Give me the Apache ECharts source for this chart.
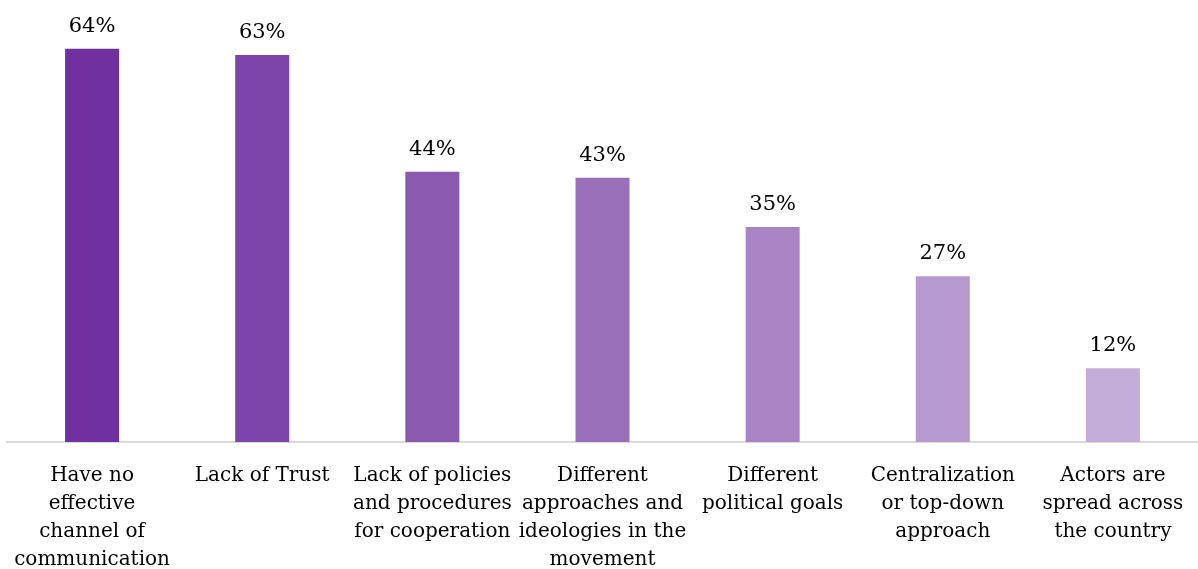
<!DOCTYPE html>
<html>
<head>
<meta charset="utf-8">
<script src="https://cdn.jsdelivr.net/npm/echarts@6/dist/echarts.min.js"></script>
<style>
  html, body { margin: 0; padding: 0; background: #ffffff; }
  #chart { width: 1198px; height: 569px; }
</style>
</head>
<body>
<div id="chart"></div>
<script>
// Reasons cited as barriers to cooperation (share of respondents, %)
const categories = [
  'Have no\neffective\nchannel of\ncommunication',
  'Lack of Trust',
  'Lack of policies\nand procedures\nfor cooperation',
  'Different\napproaches and\nideologies in the\nmovement',
  'Different\npolitical goals',
  'Centralization\nor top-down\napproach',
  'Actors are\nspread across\nthe country'
];
const values = [64, 63, 44, 43, 35, 27, 12];
const barColors = ['#7030A0', '#7E45A8', '#8B59B0', '#9A6FBA', '#A884C4', '#B69ACF', '#C4ADD9'];

const chart = echarts.init(document.getElementById('chart'), null, { renderer: 'canvas' });
chart.setOption({
  animation: false,
  backgroundColor: '#ffffff',
  grid: { left: 7, right: 0, top: 12, bottom: 127, containLabel: false, outerBoundsMode: 'none' },
  xAxis: {
    type: 'category',
    data: categories,
    axisLine: { show: true, lineStyle: { color: '#D9D9D9', width: 2 } },
    axisTick: { show: false },
    axisLabel: {
      interval: 0,
      margin: 20,
      color: '#000000',
      fontFamily: 'DejaVu Serif',
      fontSize: 20,
      lineHeight: 28,
      align: 'center'
    }
  },
  yAxis: {
    type: 'value',
    min: 0,
    max: 70,
    show: false,
    splitLine: { show: false }
  },
  series: [{
    type: 'bar',
    barWidth: 54,
    data: values.map((v, i) => ({ value: v, itemStyle: { color: barColors[i] } })),
    label: {
      show: true,
      position: 'top',
      distance: 12,
      formatter: '{c}%',
      color: '#000000',
      fontFamily: 'DejaVu Serif',
      fontSize: 21
    }
  }]
});
</script>
</body>
</html>
